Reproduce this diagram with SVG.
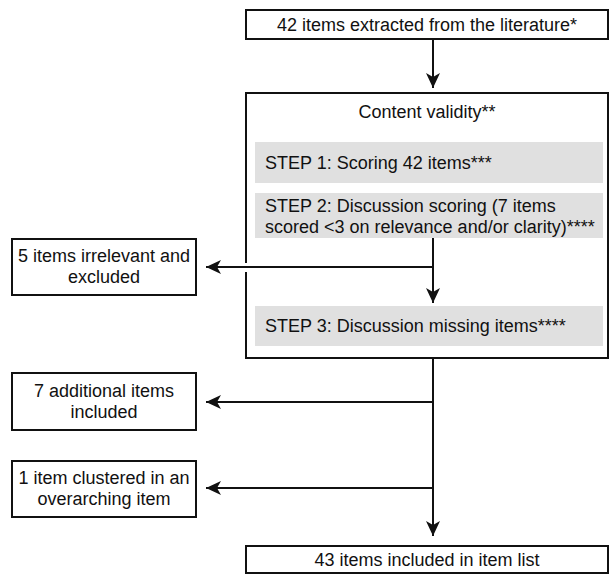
<svg xmlns="http://www.w3.org/2000/svg" width="610" height="575" viewBox="0 0 610 575">
<style>
.box{fill:#fff;stroke:#111;stroke-width:2}
.gray{fill:#e0e0e0;stroke:none}
.t{font-family:"Liberation Sans",Arial,sans-serif;font-size:18px;fill:#111}
.c{text-anchor:middle}
.ln{fill:none;stroke:#111;stroke-width:2}
</style>
<defs>
<marker id="ah" markerUnits="userSpaceOnUse" markerWidth="16" markerHeight="14" refX="15" refY="7" orient="auto">
<path d="M0,0 L15,7 L0,14 L4,7 Z" fill="#111"/>
</marker>
</defs>
<rect width="610" height="575" fill="#fff"/>
<g id="n-top">
<rect class="box" x="246" y="10" width="362" height="29"/>
<text class="t c" x="427" y="31">42 items extracted from the literature*</text>
</g>
<g id="n-content">
<path class="ln" d="M246,263 V93 H608 V358 H246 V272"/>
<text class="t c" x="427" y="118">Content validity**</text>
</g>
<g id="n-step1">
<rect class="gray" x="255" y="142" width="348" height="41"/>
<text class="t" x="265" y="169">STEP 1: Scoring 42 items***</text>
</g>
<g id="n-step2">
<rect class="gray" x="255" y="193" width="348" height="45"/>
<text class="t" x="265" y="212">STEP 2: Discussion scoring (7 items</text>
<text class="t" x="265" y="233">scored &lt;3 on relevance and/or clarity)****</text>
</g>
<g id="n-step3">
<rect class="gray" x="255" y="306" width="348" height="40"/>
<text class="t" x="265" y="332">STEP 3: Discussion missing items****</text>
</g>
<g id="n-excluded">
<rect class="box" x="12" y="239" width="184" height="56"/>
<text class="t c" x="104" y="262">5 items irrelevant and</text>
<text class="t c" x="104" y="283">excluded</text>
</g>
<g id="n-additional">
<rect class="box" x="12" y="373" width="184" height="57"/>
<text class="t c" x="104" y="397">7 additional items</text>
<text class="t c" x="104" y="418">included</text>
</g>
<g id="n-clustered">
<rect class="box" x="12" y="461" width="184" height="56"/>
<text class="t c" x="104" y="484">1 item clustered in an</text>
<text class="t c" x="104" y="505">overarching item</text>
</g>
<g id="n-final">
<rect class="box" x="246" y="546" width="362" height="27"/>
<text class="t c" x="427" y="566">43 items included in item list</text>
</g>
<g id="connectors">
<path class="ln" d="M433,39 V88" marker-end="url(#ah)"/>
<path class="ln" d="M433,238 V303" marker-end="url(#ah)"/>
<path class="ln" d="M433,267 H206" marker-end="url(#ah)"/>
<path class="ln" d="M433,358 V536" marker-end="url(#ah)"/>
<path class="ln" d="M433,402 H206" marker-end="url(#ah)"/>
<path class="ln" d="M433,488 H206" marker-end="url(#ah)"/>
</g>
</svg>
